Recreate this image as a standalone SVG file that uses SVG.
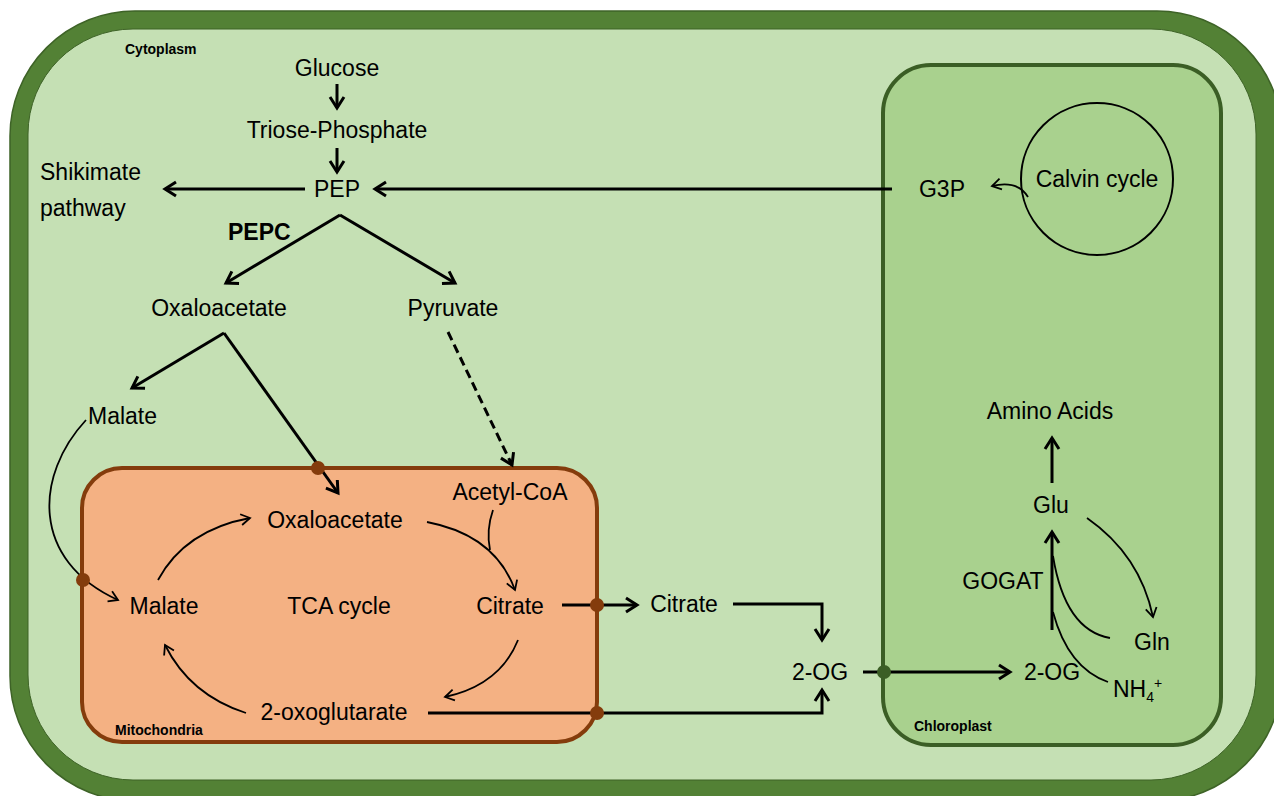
<svg xmlns="http://www.w3.org/2000/svg" width="1274" height="796" viewBox="0 0 1274 796">
<style>
.t{font-family:"Liberation Sans",Arial,sans-serif;font-size:23px;fill:#000}
.c{text-anchor:middle}
.b{font-family:"Liberation Sans",Arial,sans-serif;font-weight:bold;font-size:14px;fill:#000}
.th{fill:none;stroke:#000;stroke-width:3}
.tn{fill:none;stroke:#000;stroke-width:1.8}
</style>
<defs>
<marker id="ah" markerUnits="userSpaceOnUse" markerWidth="18" markerHeight="18" refX="14" refY="9" orient="auto">
<path d="M3,2 L14,9 L3,16" fill="none" stroke="#000" stroke-width="3"/>
</marker>
<marker id="as" markerUnits="userSpaceOnUse" markerWidth="14" markerHeight="14" refX="11" refY="7" orient="auto">
<path d="M2,1.5 L11,7 L2,12.5" fill="none" stroke="#000" stroke-width="1.8"/>
</marker>
</defs>

<g id="cell">
<rect x="10" y="11" width="1272" height="790" rx="125" fill="#538135" stroke="#3e6327" stroke-width="1.5"/>
<rect x="28" y="29" width="1228" height="751" rx="105" fill="#c5e0b4" stroke="#3e6327" stroke-width="1"/>
<text class="b" x="125" y="54">Cytoplasm</text>
</g>

<g id="chloroplast">
<rect x="883" y="65" width="338" height="680" rx="48" fill="#a9d18e" stroke="#3b5e25" stroke-width="4"/>
<text class="b" x="914" y="731">Chloroplast</text>
</g>

<g id="mitochondria">
<rect x="82" y="468" width="515" height="274" rx="40" fill="#f4b183" stroke="#843c0c" stroke-width="4"/>
<text class="b" x="115" y="735">Mitochondria</text>
</g>

<g id="calvin">
<circle cx="1097" cy="179" r="76" fill="none" stroke="#000" stroke-width="2"/>
<text class="t c" x="1097" y="187">Calvin cycle</text>
</g>

<g id="connectors">
<path class="th" d="M337,84 V108" marker-end="url(#ah)"/>
<path class="th" d="M337,148 V172" marker-end="url(#ah)"/>
<path class="th" d="M305,189 H165" marker-end="url(#ah)"/>
<path class="th" d="M892,189 H375" marker-end="url(#ah)"/>
<path class="tn" d="M1028,197 Q1018,180 992,186" marker-end="url(#as)"/>
<path class="th" d="M340,215 L226,283" marker-end="url(#ah)"/>
<path class="th" d="M340,215 L455,283" marker-end="url(#ah)"/>
<path class="th" d="M224,333 L132,388" marker-end="url(#ah)"/>
<path class="th" d="M224,333 L338,493" stroke-width="2.6" marker-end="url(#ah)"/>
<path class="th" d="M448,332 L512,465" stroke-dasharray="9,5" marker-end="url(#ah)"/>
<path class="tn" d="M86,420 C35,475 30,560 118,600" marker-end="url(#as)"/>
<path class="tn" d="M158,580 Q185,530 250,518" marker-end="url(#as)"/>
<path class="tn" d="M427,522 Q495,535 515,590" marker-end="url(#as)"/>
<path class="tn" d="M493,510 Q486,530 490,550"/>
<path class="tn" d="M518,640 Q500,685 445,697" marker-end="url(#as)"/>
<path class="tn" d="M246,713 Q190,695 165,645" marker-end="url(#as)"/>
<path class="th" d="M562,605 H637" marker-end="url(#ah)"/>
<path class="th" d="M733,604 H822 V640" marker-end="url(#ah)"/>
<path class="th" d="M428,713 H822 V690" marker-end="url(#ah)"/>
<path class="th" d="M863,672 H1010" marker-end="url(#ah)"/>
<path class="th" d="M1052,630 V532" marker-end="url(#ah)"/>
<path class="tn" d="M1053,556 Q1065,630 1110,638"/>
<path class="tn" d="M1053,612 Q1068,668 1108,682"/>
<path class="tn" d="M1087,518 Q1140,555 1153,617" marker-end="url(#as)"/>
<path class="th" d="M1052,483 V438" marker-end="url(#ah)"/>
<circle cx="318" cy="468" r="7" fill="#843c0c"/>
<circle cx="83" cy="580" r="7" fill="#843c0c"/>
<circle cx="597" cy="605" r="7" fill="#843c0c"/>
<circle cx="597" cy="713" r="7" fill="#843c0c"/>
<circle cx="884" cy="672" r="7" fill="#3b5e25"/>
</g>

<g id="n-glucose"><text class="t c" x="337" y="76">Glucose</text></g>
<g id="n-triose"><text class="t c" x="337" y="138">Triose-Phosphate</text></g>
<g id="n-pep"><text class="t c" x="337" y="197">PEP</text></g>
<g id="n-shikimate"><text class="t" x="40" y="180">Shikimate</text><text class="t" x="40" y="216">pathway</text></g>
<g id="n-g3p"><text class="t c" x="942" y="197">G3P</text></g>
<g id="n-pepc"><text class="t" x="228" y="240" font-weight="bold" font-size="20">PEPC</text></g>
<g id="n-oaa"><text class="t c" x="219" y="316">Oxaloacetate</text></g>
<g id="n-pyruvate"><text class="t c" x="453" y="316">Pyruvate</text></g>
<g id="n-malate"><text class="t" x="88" y="424">Malate</text></g>
<g id="n-oaa-m"><text class="t c" x="335" y="528">Oxaloacetate</text></g>
<g id="n-acetyl"><text class="t c" x="510" y="500">Acetyl-CoA</text></g>
<g id="n-malate-m"><text class="t c" x="164" y="614">Malate</text></g>
<g id="n-tca"><text class="t c" x="339" y="614">TCA cycle</text></g>
<g id="n-citrate-m"><text class="t c" x="510" y="614">Citrate</text></g>
<g id="n-2oxo"><text class="t c" x="334" y="720">2-oxoglutarate</text></g>
<g id="n-citrate"><text class="t c" x="684" y="612">Citrate</text></g>
<g id="n-2og"><text class="t c" x="820" y="680">2-OG</text></g>
<g id="n-2og-c"><text class="t c" x="1052" y="680">2-OG</text></g>
<g id="n-gogat"><text class="t c" x="1003" y="589">GOGAT</text></g>
<g id="n-glu"><text class="t c" x="1051" y="513">Glu</text></g>
<g id="n-gln"><text class="t c" x="1152" y="650">Gln</text></g>
<g id="n-nh4"><text class="t" x="1113" y="697">NH<tspan font-size="14" dy="5">4</tspan><tspan font-size="14" dy="-14">+</tspan></text></g>
<g id="n-amino"><text class="t c" x="1050" y="419">Amino Acids</text></g>
</svg>
